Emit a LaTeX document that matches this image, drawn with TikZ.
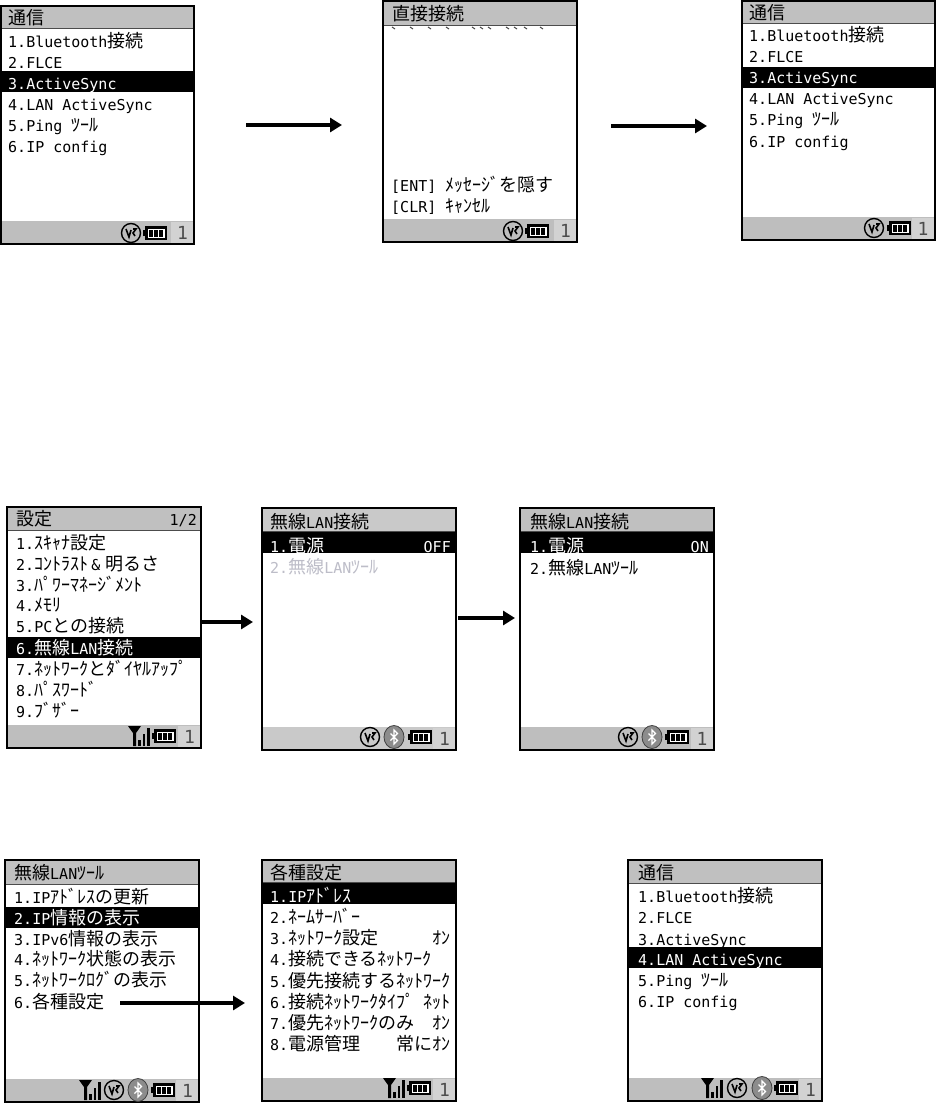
\documentclass[tikz,border=0pt]{standalone}
\usepackage{fontspec}
\setmainfont{DejaVu Sans Mono}
\newfontfamily\jpfont[Scale=1.2]{Noto Sans CJK JP}
\newcommand{\jp}[1]{{\jpfont #1}}
\usetikzlibrary{arrows.meta}

\definecolor{barcol}{HTML}{C0C0C0}
\definecolor{footcol}{HTML}{BEBEBE}
\definecolor{dithcol}{HTML}{C9C9C9}
\definecolor{boxcol}{HTML}{D2D2D2}
\definecolor{dimcol}{HTML}{BDBDC8}

\tikzset{
  screen/.style={fill=white,anchor=north west,inner sep=0pt,outer sep=0pt,minimum width=194pt},
  frameline/.style={draw=black,line width=2pt},
  titlebar/.style={fill=barcol,anchor=north west,inner sep=0pt,outer sep=0pt,minimum width=193pt},
  footbar/.style={fill=footcol,anchor=south west,inner sep=0pt,outer sep=0pt,minimum width=193pt,minimum height=23pt},
  hibar/.style={fill=black,anchor=north west,inner sep=0pt,outer sep=0pt,minimum width=193pt,minimum height=21pt},
  onebox/.style={fill=boxcol,anchor=south east,inner sep=0pt,outer sep=0pt,minimum width=23pt,minimum height=22pt,text=black!70,font=\fontsize{18}{18}\selectfont},
  item/.style={anchor=base west,inner sep=0pt,font=\fontsize{15}{18}\selectfont},
  itemr/.style={item,anchor=base east},
  hi/.style={item,text=white},
  hir/.style={itemr,text=white},
  flowarrow/.style={-{Triangle[length=12pt,width=14pt]},line width=4pt},
  titleline/.style={black!70,line width=0.8pt},
  batticon/.pic={
    \fill[black] (-12,-3) rectangle (-9,3);
    \fill[black] (-10,-7) rectangle (12,7);
    \fill[white] (-7,-4.5) rectangle (10,4.5);
    \foreach \bx in {-4,1,6}{\fill[black] (\bx-1.6,-3.5) rectangle (\bx+1.6,3.5);}
  },
  syncicon/.pic={
    \draw[black,line width=1.4pt] (0,0) circle (9.5);
    \draw[black,line width=1.6pt] (-5,-4) -- (-2,4) -- (0,-3);
    \draw[black,line width=1.6pt] (2,-4) -- (5,-4) -- (2,0) -- (4,3);
  },
  bticon/.pic={
    \filldraw[fill=black!45,draw=black!75,line width=0.8pt] (0,0) ellipse (10 and 11.5);
    \draw[white,line width=1.2pt] (-3.5,-3.5) -- (3.5,3.5) -- (0,7) -- (0,-7) -- (3.5,-3.5) -- (-3.5,3.5);
  },
  sigicon/.pic={
    \fill[black] (-11,-10) -- (2,-10) -- (-3,-3) -- (-3,10) -- (-6,10) -- (-6,-3) -- cycle;
    \fill[black] (-1,4) rectangle (1.5,10);
    \fill[black] (3.5,-2) rectangle (6,10);
    \fill[black] (8,-8) rectangle (10.5,10);
  },
}

\begin{document}
\begin{tikzpicture}[x=1pt,y=-1pt]
\useasboundingbox (0,0) rectangle (936,1103);

% screens
\node[screen,minimum width=193pt,minimum height=238pt] (a) at (1,6) {};
\node[screen,minimum height=241pt] (b) at (383,1) {};
\node[screen,minimum width=193pt,minimum height=239pt] (c) at (741.5,1) {};
\node[screen,minimum height=241pt] (d) at (7,507) {};
\node[screen,minimum height=242pt] (e) at (262,508) {};
\node[screen,minimum height=242pt] (f) at (519.5,508) {};
\node[screen,minimum height=242pt] (g) at (5,860) {};
\node[screen,minimum height=240.5pt] (h) at (262,860) {};
\node[screen,minimum height=240.5pt] (i) at (628,860) {};

% title bars
\node[titlebar,minimum height=22pt] (atitle) at (1,6) {};
\node[titlebar,minimum height=24pt] (btitle) at (383,1) {};
\node[titlebar,minimum height=22pt] (ctitle) at (741.5,1) {};
\node[titlebar,minimum height=23pt] (dtitle) at (7,507) {};
\node[titlebar,minimum height=23pt,fill=dithcol] (etitle) at (262,508) {};
\node[titlebar,minimum height=23pt] (ftitle) at (519.5,508) {};
\node[titlebar,minimum height=24pt] (gtitle) at (5,860) {};
\node[titlebar,minimum height=22pt] (htitle) at (262,860) {};
\node[titlebar,minimum height=23pt] (ititle) at (628,860) {};
\foreach \n in {atitle,btitle,ctitle,dtitle,etitle,ftitle,gtitle,htitle,ititle}
  \draw[titleline] (\n.south west) -- (\n.south east);

% foot bars
\node[footbar] (afoot) at (a.south west) {};
\node[footbar] (bfoot) at (b.south west) {};
\node[footbar] (cfoot) at (c.south west) {};
\node[footbar] (dfoot) at (d.south west) {};
\node[footbar,fill=dithcol] (efoot) at (e.south west) {};
\node[footbar] (ffoot) at (f.south west) {};
\node[footbar] (gfoot) at (g.south west) {};
\node[footbar] (hfoot) at (h.south west) {};
\node[footbar] (ifoot) at (i.south west) {};
\foreach \n in {a,b,c,d,e,f,g,h,i}
  \node[onebox] (\n one) at (\n.south east) {1};

% highlighted rows
\node[hibar] (abar) at (1,71) {};
\node[hibar] (cbar) at (741.5,67) {};
\node[hibar] (dbar) at (7,637) {};
\node[hibar] (ebar) at (262,532) {};
\node[hibar] (fbar) at (519.5,532) {};
\node[hibar] (gbar) at (5,907) {};
\node[hibar] (hbar) at (262,883) {};
\node[hibar] (ibar) at (628,947) {};

% frames on top
\foreach \n in {a,b,c,d,e,f,g,h,i}
  \draw[frameline] (\n.north west) rectangle (\n.south east);

% screen a
\node[item] (a0) at (8,24) {\jp{通信}};
\node[item] (a1) at (8,47) {1.Bluetooth\jp{接続}};
\node[item] (a2) at (8,68) {2.FLCE};
\node[hi] (a3) at (8,89) {3.ActiveSync};
\node[item] (a4) at (8,110) {4.LAN ActiveSync};
\node[item] (a5) at (8,131) {5.Ping \jp{ﾂｰﾙ}};
\node[item] (a6) at (8,152) {6.IP config};

% screen b
\node[item] (b0) at (392,20) {\jp{直接接続}};
\foreach \tx in {392,410,428,446,472,480,488,506,514,524,540}
  \draw[black!70,line width=1pt] (\tx,27) -- (\tx+3,29);
\node[item] (b1) at (391,191) {[ENT] \jp{ﾒｯｾｰｼﾞを隠す}};
\node[item] (b2) at (391,212) {[CLR] \jp{ｷｬﾝｾﾙ}};

% screen c
\node[item] (c0) at (749,19) {\jp{通信}};
\node[item] (c1) at (749,41) {1.Bluetooth\jp{接続}};
\node[item] (c2) at (749,62) {2.FLCE};
\node[hi] (c3) at (749,83) {3.ActiveSync};
\node[item] (c4) at (749,104) {4.LAN ActiveSync};
\node[item] (c5) at (749,125) {5.Ping \jp{ﾂｰﾙ}};
\node[item] (c6) at (749,147) {6.IP config};

% screen d
\node[item] (d0) at (16,525) {\jp{設定}};
\node[itemr] (d00) at (197,525) {1/2};
\node[item] (d1) at (16,549) {1.\jp{ｽｷｬﾅ設定}};
\node[item] (d2) at (16,570) {2.\jp{ｺﾝﾄﾗｽﾄ}\hspace{3pt}\&\hspace{5pt}\jp{明るさ}};
\node[item] (d3) at (16,591) {3.\jp{ﾊﾟﾜｰﾏﾈｰｼﾞﾒﾝﾄ}};
\node[item] (d4) at (16,611) {4.\jp{ﾒﾓﾘ}};
\node[item] (d5) at (16,632) {5.PC\jp{との接続}};
\node[hi] (d6) at (16,654) {6.\jp{無線}LAN\jp{接続}};
\node[item] (d7) at (16,675) {7.\jp{ﾈｯﾄﾜｰｸとﾀﾞｲﾔﾙｱｯﾌﾟ}};
\node[item] (d8) at (16,696) {8.\jp{ﾊﾟｽﾜｰﾄﾞ}};
\node[item] (d9) at (16,717) {9.\jp{ﾌﾞｻﾞｰ}};

% screen e
\node[item] (e0) at (270,528) {\jp{無線}LAN\jp{接続}};
\node[hi] (e1) at (270,552) {1.\jp{電源}};
\node[hir] (e11) at (451,552) {OFF};
\node[item,text=dimcol] (e2) at (270,573) {2.\jp{無線}LAN\jp{ﾂｰﾙ}};

% screen f
\node[item] (f0) at (530,528) {\jp{無線}LAN\jp{接続}};
\node[hi] (f1) at (530,552) {1.\jp{電源}};
\node[hir] (f11) at (709,552) {ON};
\node[item] (f2) at (530,574) {2.\jp{無線}LAN\jp{ﾂｰﾙ}};

% screen g
\node[item] (g0) at (14,879) {\jp{無線}LAN\jp{ﾂｰﾙ}};
\node[item] (g1) at (14,903) {1.IP\jp{ｱﾄﾞﾚｽの更新}};
\node[hi] (g2) at (14,924) {2.IP\jp{情報の表示}};
\node[item] (g3) at (14,945) {3.IPv6\jp{情報の表示}};
\node[item] (g4) at (14,965) {4.\jp{ﾈｯﾄﾜｰｸ状態の表示}};
\node[item] (g5) at (14,986) {5.\jp{ﾈｯﾄﾜｰｸﾛｸﾞの表示}};
\node[item] (g6) at (14,1008) {6.\jp{各種設定}};

% screen h
\node[item] (h0) at (270,879) {\jp{各種設定}};
\node[hi] (h1) at (270,902) {1.IP\jp{ｱﾄﾞﾚｽ}};
\node[item] (h2) at (270,923) {2.\jp{ﾈｰﾑｻｰﾊﾞｰ}};
\node[item] (h3) at (270,944) {3.\jp{ﾈｯﾄﾜｰｸ設定}};
\node[itemr] (h33) at (451,944) {\jp{ｵﾝ}};
\node[item] (h4) at (270,965) {4.\jp{接続できるﾈｯﾄﾜｰｸ}};
\node[item] (h5) at (270,987) {5.\jp{優先接続するﾈｯﾄﾜｰｸ}};
\node[item] (h6) at (270,1008) {6.\jp{接続ﾈｯﾄﾜｰｸﾀｲﾌﾟ}};
\node[itemr] (h66) at (451,1008) {\jp{ﾈｯﾄ}};
\node[item] (h7) at (270,1029) {7.\jp{優先ﾈｯﾄﾜｰｸのみ}};
\node[itemr] (h77) at (451,1029) {\jp{ｵﾝ}};
\node[item] (h8) at (270,1050) {8.\jp{電源管理}};
\node[itemr] (h88) at (451,1050) {\jp{常にｵﾝ}};

% screen i
\node[item] (i0) at (638,879) {\jp{通信}};
\node[item] (i1) at (638,902) {1.Bluetooth\jp{接続}};
\node[item] (i2) at (638,923) {2.FLCE};
\node[item] (i3) at (638,945) {3.ActiveSync};
\node[hi] (i4) at (638,965) {4.LAN ActiveSync};
\node[item] (i5) at (638,986) {5.Ping \jp{ﾂｰﾙ}};
\node[item] (i6) at (638,1007) {6.IP config};

% status icons
\path (131,233) pic {syncicon} (155,233) pic {batticon};
\path (513,231) pic {syncicon} (537,231) pic {batticon};
\path (874,228) pic {syncicon} (899,228) pic {batticon};
\path (139,736) pic {sigicon} (164,736) pic {batticon};
\path (370,737) pic {syncicon} (394,737) pic {bticon} (420,737) pic {batticon};
\path (628,737) pic {syncicon} (652,737) pic {bticon} (677,737) pic {batticon};
\path (90,1090) pic {sigicon} (114,1090) pic {syncicon} (138,1090) pic {bticon} (163,1090) pic {batticon};
\path (394,1088) pic {sigicon} (419,1088) pic {batticon};
\path (712,1088) pic {sigicon} (737,1088) pic {syncicon} (762,1088) pic {bticon} (786,1088) pic {batticon};

% arrows
\coordinate (ab1) at (246,125);
\coordinate (ab2) at (342,125);
\coordinate (bc1) at (611,126);
\coordinate (bc2) at (707,126);
\coordinate (de2) at (253,622);
\coordinate (ef1) at (458,618);
\coordinate (ef2) at (515,618);
\coordinate (gh1) at (120,1003);
\coordinate (gh2) at (245,1003);
\draw[flowarrow] (ab1) -- (ab2);
\draw[flowarrow] (bc1) -- (bc2);
\draw[flowarrow] (d.east |- de2) -- (de2);
\draw[flowarrow] (ef1) -- (ef2);
\draw[flowarrow] (gh1) -- (gh2);
\end{tikzpicture}
\end{document}
